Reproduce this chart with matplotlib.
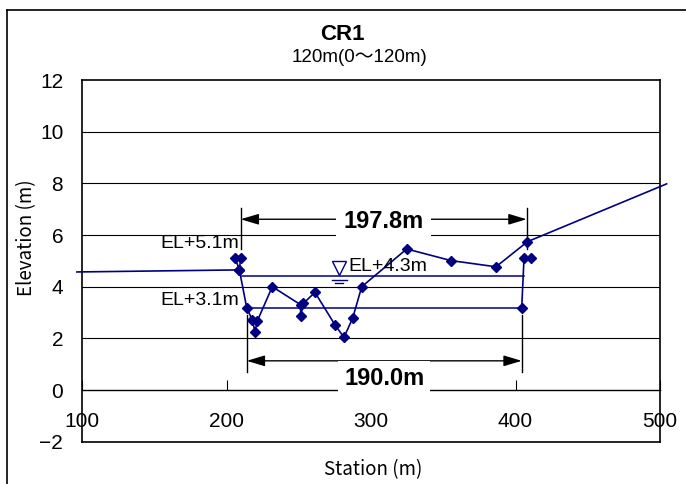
import matplotlib
matplotlib.use("Agg")
import matplotlib.pyplot as plt
from matplotlib.lines import Line2D

NAVY = "#000080"

# ---- data ----
profile_x = [96.5, 208.9, 214.0, 217.9, 219.7, 221.3, 231.7, 251.3, 251.3, 253.1, 261.2,
             275.1, 281.3, 287.3, 293.6, 324.7, 355.4, 386.5, 408.2, 504.6]
profile_y = [4.57, 4.65, 3.18, 2.71, 2.26, 2.67, 4.00, 3.30, 2.87, 3.35, 3.78,
             2.52, 2.04, 2.78, 4.00, 5.46, 5.01, 4.77, 5.74, 7.98]
left_bank_x = [205.9, 208.9, 209.8]
left_bank_y = [5.12, 4.65, 5.12]
right_bank_x = [404.3, 405.9, 410.5]
right_bank_y = [3.18, 5.12, 5.12]
wl_high_x = [210.5, 406.1]
wl_high_y = [4.40, 4.40]
wl_low_x = [214.0, 404.3]
wl_low_y = [3.18, 3.18]
top_dim = (209.8, 407.7)
top_dim_y = 6.61
bot_dim = (214.0, 404.3)
bot_dim_y = 1.13
x_ticks = [100, 200, 300, 400, 500]
y_ticks = [-2, 0, 2, 4, 6, 8, 10, 12]

fig = plt.figure(figsize=(6.86, 4.84), dpi=100)
W, H = 686, 484
ax = fig.add_axes([82 / W, 1 - 441.7 / H, 578 / W, (441.7 - 80) / H])
ax.set_xlim(100, 500)
ax.set_ylim(-2, 12)

# grid
for g in [2, 4, 6, 8, 10]:
    ax.axhline(g, color="black", lw=0.8, zorder=1)

# spines
for s in ["left", "right", "top"]:
    ax.spines[s].set_linewidth(1.2)
ax.spines["bottom"].set_position(("data", 0))
ax.spines["bottom"].set_linewidth(1.0)
ax.axhline(-2, color="black", lw=1.2, zorder=2.5, clip_on=False)

ax.set_xticks(x_ticks)
ax.set_xticklabels([str(v) for v in x_ticks])
ax.set_yticks(y_ticks)
ax.set_yticklabels([str(v).replace("-", "\u2212") for v in y_ticks])
ax.tick_params(axis="x", direction="in", length=7, width=0.8, pad=16, labelsize=15)
ax.tick_params(axis="y", length=0, pad=13.5, labelsize=15)
for lab in ax.get_xticklabels() + ax.get_yticklabels():
    lab.set_fontfamily("Liberation Sans")

# profile lines
ax.plot(profile_x, profile_y, color=NAVY, lw=1.2, clip_on=False, zorder=3)
ax.plot(profile_x[1:-1], profile_y[1:-1], ls="none", marker="D", ms=5,
        color=NAVY, zorder=4)
ax.plot(left_bank_x, left_bank_y, color=NAVY, lw=1.2, marker="D", ms=5, zorder=4)
ax.plot(right_bank_x, right_bank_y, color=NAVY, lw=1.2, marker="D", ms=5, zorder=4)
ax.plot(wl_high_x, wl_high_y, color=NAVY, lw=1.1, zorder=3)
ax.plot(wl_low_x, wl_low_y, color=NAVY, lw=1.1, zorder=3)

# water level symbol
ax.plot([277.9], [4.71], marker="v", ms=10, mfc="white", mec=NAVY, mew=1.0, zorder=5)
ax.plot([272.8, 283.2], [4.26, 4.26], color=NAVY, lw=1.0)
ax.plot([275.1, 280.9], [4.13, 4.13], color=NAVY, lw=1.0)

# dimension lines
for xv in top_dim:
    ax.plot([xv, xv], [5.45, 7.05], color="black", lw=1.0, zorder=3)
for xv in bot_dim:
    ax.plot([xv, xv], [0.71, 2.9], color="black", lw=1.0, zorder=3)
arrow = dict(arrowstyle="<|-|>,head_length=1.1,head_width=0.33", mutation_scale=10,
             color="black", lw=1.0, shrinkA=0, shrinkB=0)
ax.annotate("", xy=(top_dim[0], top_dim_y), xytext=(top_dim[1], top_dim_y), arrowprops=arrow)
ax.annotate("", xy=(bot_dim[0], bot_dim_y), xytext=(bot_dim[1], bot_dim_y), arrowprops=arrow)

ax.text(sum(top_dim) / 2, top_dim_y, "197.8m", ha="center", va="center_baseline",
        fontsize=17, fontweight="bold", family="Liberation Sans", zorder=6,
        bbox=dict(boxstyle="square,pad=0.3", fc="white", ec="none"))
ax.text(sum(bot_dim) / 2, 0.54, "190.0m", ha="center", va="center_baseline",
        fontsize=17, fontweight="bold", family="Liberation Sans", zorder=6,
        bbox=dict(boxstyle="square,pad=0.25", fc="white", ec="none"))

ax.text(208.5, 5.74, "EL+5.1m", ha="right", va="center_baseline", fontsize=14,
        family="Liberation Sans", zorder=6)
ax.text(208.5, 3.55, "EL+3.1m", ha="right", va="center_baseline", fontsize=14,
        family="Liberation Sans", zorder=6)
ax.text(284.3, 4.84, "EL+4.3m", ha="left", va="center_baseline", fontsize=14,
        family="Liberation Sans", zorder=6)

# axis labels
ax.set_ylabel("Elevation (m)", fontsize=13.5, family="Noto Sans CJK JP", va="center")
ax.yaxis.set_label_coords((27 - 82) / 578, (441.7 - 238) / 361.7)
ax.set_xlabel("Station (m)", fontsize=13.5, family="Noto Sans CJK JP", va="center")
ax.xaxis.set_label_coords((373 - 82) / 578, (441.7 - 470) / 361.7)

# titles
fig.text(342 / W, 1 - 35 / H, "CR1", ha="center", va="center", fontsize=16,
         fontweight="bold", family="Liberation Sans")
fig.text(360 / W, 1 - 57 / H, "120m(0\uff5e120m)", ha="center", va="center",
         fontsize=13.5, family=["Liberation Sans", "Noto Sans CJK JP"])

# figure frame (left and top edges)
fig.add_artist(Line2D([7 / W, 7 / W], [0, 1 - 10 / H], color="black", lw=1.2,
                      transform=fig.transFigure))
fig.add_artist(Line2D([7 / W, 1], [1 - 10 / H, 1 - 10 / H], color="black", lw=1.2,
                      transform=fig.transFigure))

fig.savefig("out.png", dpi=100)
